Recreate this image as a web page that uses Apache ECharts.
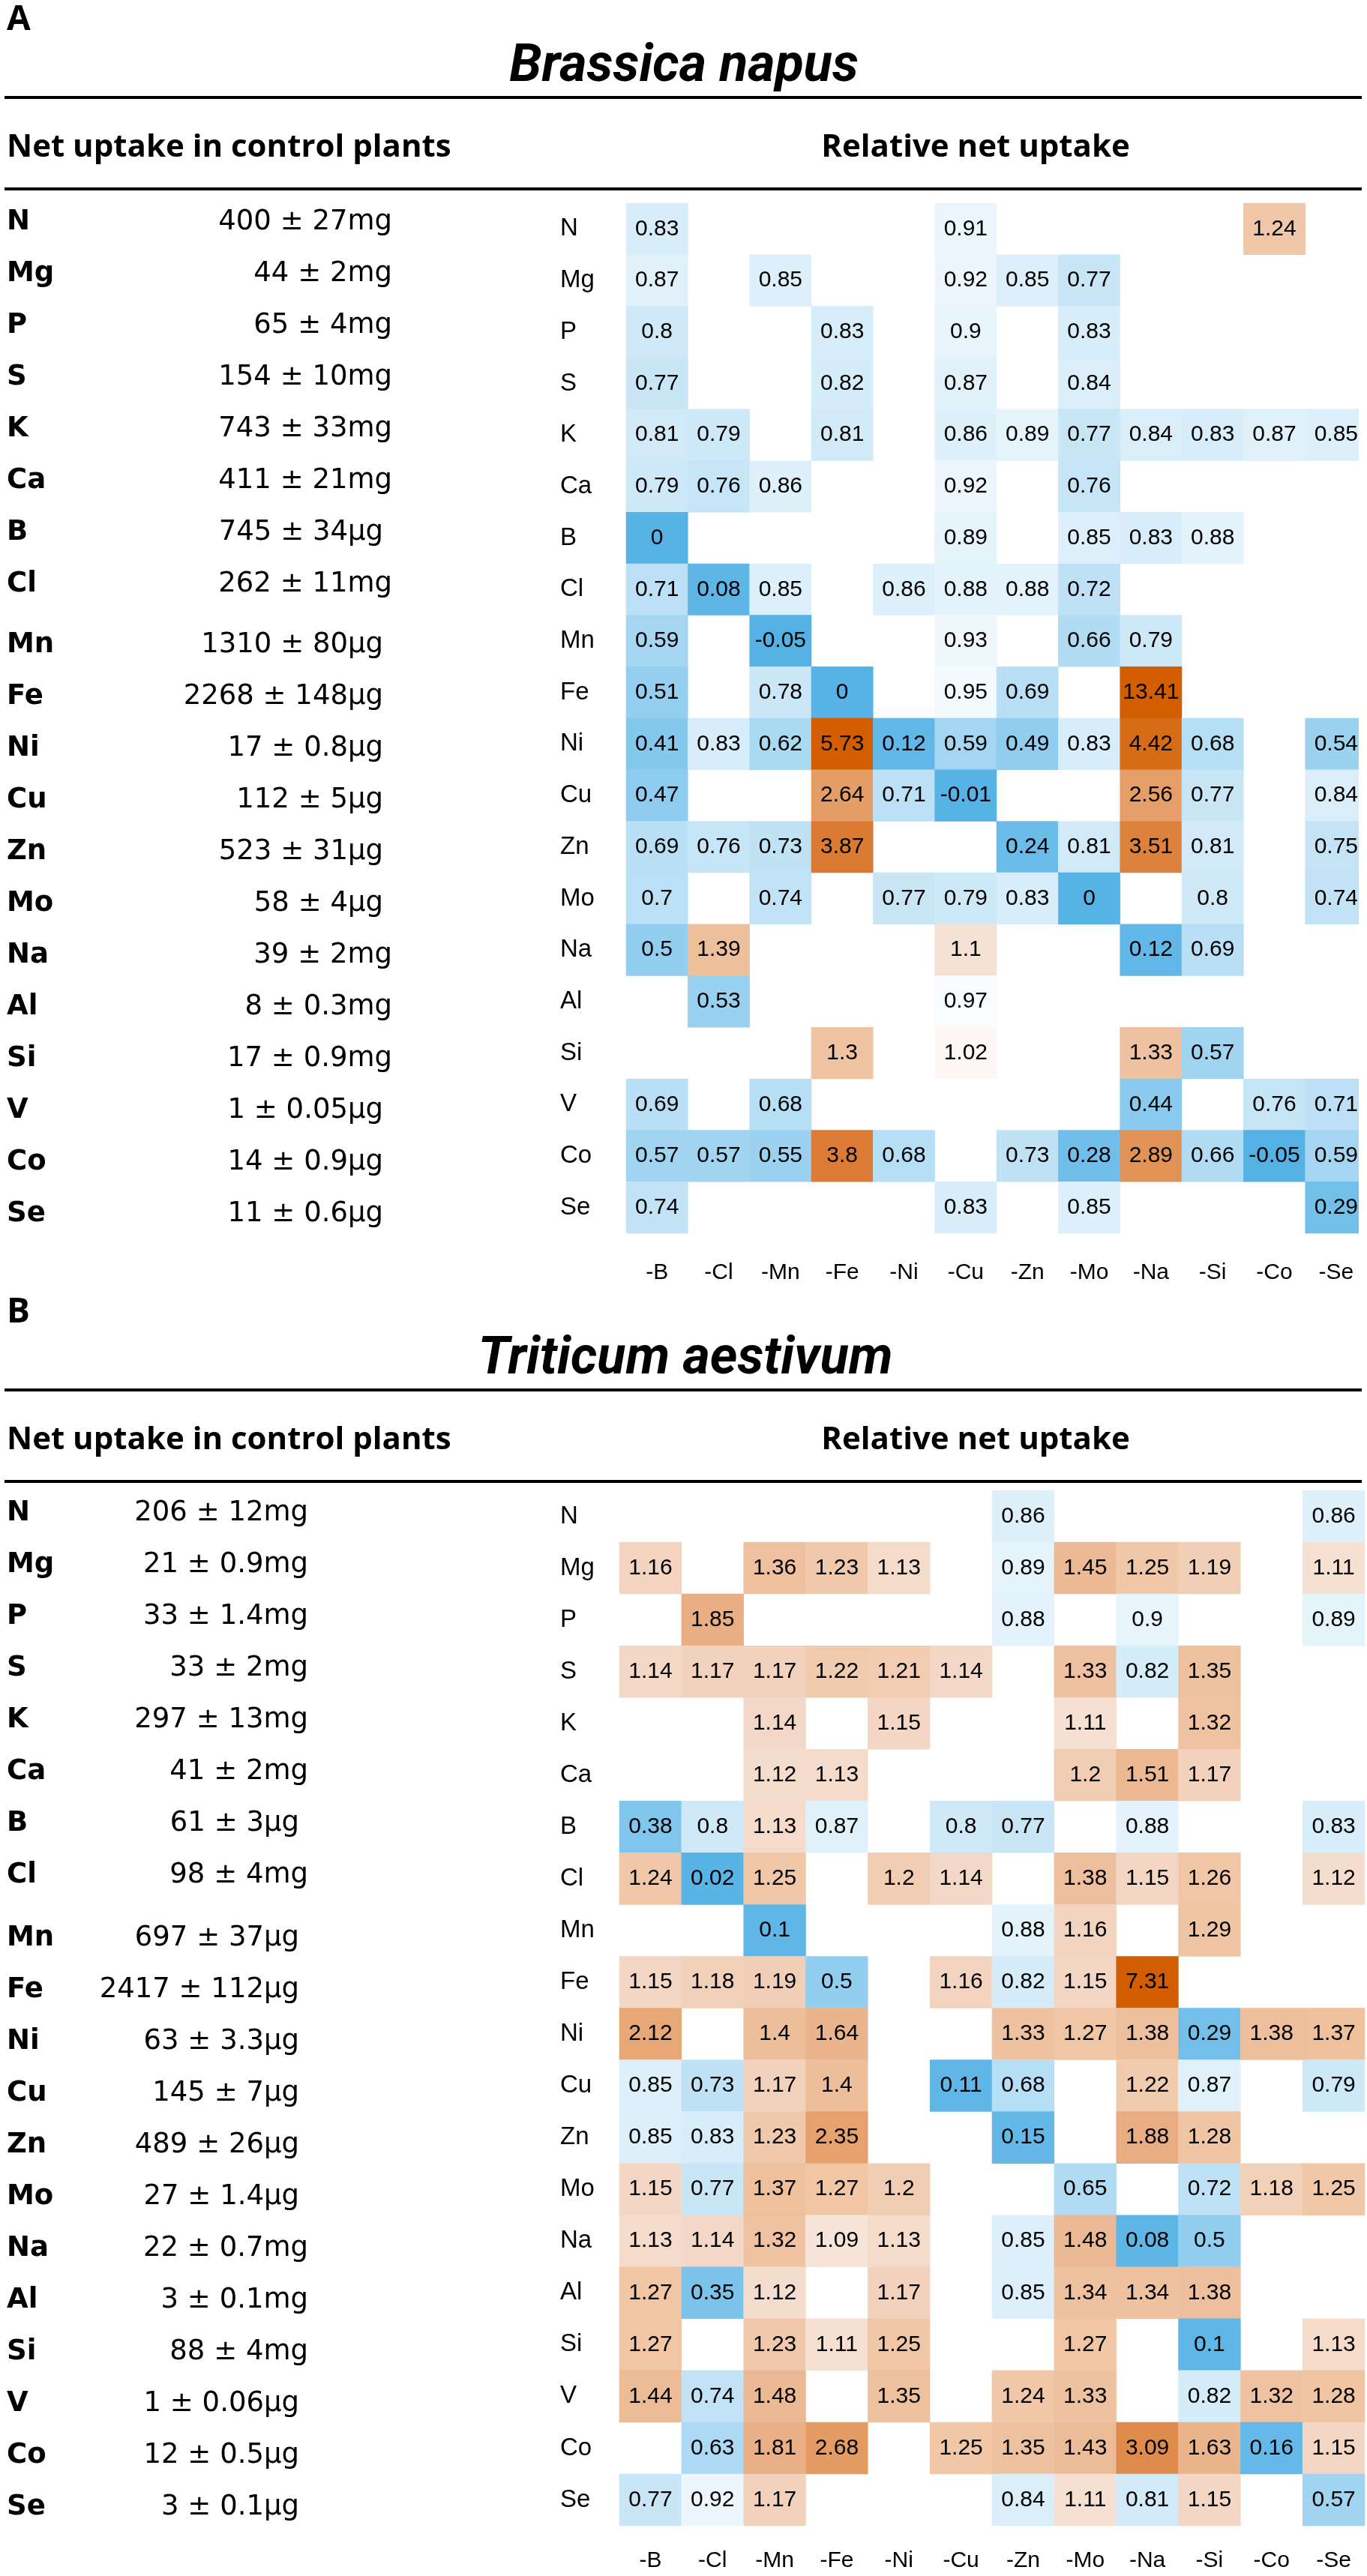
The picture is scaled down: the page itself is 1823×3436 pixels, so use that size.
<!DOCTYPE html>
<html>
<head>
<meta charset="utf-8">
<script src="https://cdn.jsdelivr.net/npm/echarts@6/dist/echarts.min.js"></script>
<style>
  html, body { margin: 0; padding: 0; background: #fff; }
  #chart { width: 1823px; height: 3436px; }
</style>
</head>
<body>
<div id="chart"></div>
<script>
// deficiency treatments (columns) and elements (rows)
const treatments = ['-B', '-Cl', '-Mn', '-Fe', '-Ni', '-Cu', '-Zn', '-Mo', '-Na', '-Si', '-Co', '-Se'];
const elements = ['N', 'Mg', 'P', 'S', 'K', 'Ca', 'B', 'Cl', 'Mn', 'Fe', 'Ni', 'Cu', 'Zn', 'Mo', 'Na', 'Al', 'Si', 'V', 'Co', 'Se'];

// net uptake in control plants
const napusControl = ['400 ± 27mg', '44 ± 2mg', '65 ± 4mg', '154 ± 10mg', '743 ± 33mg', '411 ± 21mg', '745 ± 34µg',
  '262 ± 11mg', '1310 ± 80µg', '2268 ± 148µg', '17 ± 0.8µg', '112 ± 5µg', '523 ± 31µg', '58 ± 4µg', '39 ± 2mg',
  '8 ± 0.3mg', '17 ± 0.9mg', '1 ± 0.05µg', '14 ± 0.9µg', '11 ± 0.6µg'];
const aestivumControl = ['206 ± 12mg', '21 ± 0.9mg', '33 ± 1.4mg', '33 ± 2mg', '297 ± 13mg', '41 ± 2mg', '61 ± 3µg',
  '98 ± 4mg', '697 ± 37µg', '2417 ± 112µg', '63 ± 3.3µg', '145 ± 7µg', '489 ± 26µg', '27 ± 1.4µg', '22 ± 0.7mg',
  '3 ± 0.1mg', '88 ± 4mg', '1 ± 0.06µg', '12 ± 0.5µg', '3 ± 0.1µg'];

// relative net uptake, one row per element, null = not significant
const napusRelative = [
  [0.83, null, null, null, null, 0.91, null, null, null, null, 1.24, null],
  [0.87, null, 0.85, null, null, 0.92, 0.85, 0.77, null, null, null, null],
  [0.8, null, null, 0.83, null, 0.9, null, 0.83, null, null, null, null],
  [0.77, null, null, 0.82, null, 0.87, null, 0.84, null, null, null, null],
  [0.81, 0.79, null, 0.81, null, 0.86, 0.89, 0.77, 0.84, 0.83, 0.87, 0.85],
  [0.79, 0.76, 0.86, null, null, 0.92, null, 0.76, null, null, null, null],
  [0, null, null, null, null, 0.89, null, 0.85, 0.83, 0.88, null, null],
  [0.71, 0.08, 0.85, null, 0.86, 0.88, 0.88, 0.72, null, null, null, null],
  [0.59, null, -0.05, null, null, 0.93, null, 0.66, 0.79, null, null, null],
  [0.51, null, 0.78, 0, null, 0.95, 0.69, null, 13.41, null, null, null],
  [0.41, 0.83, 0.62, 5.73, 0.12, 0.59, 0.49, 0.83, 4.42, 0.68, null, 0.54],
  [0.47, null, null, 2.64, 0.71, -0.01, null, null, 2.56, 0.77, null, 0.84],
  [0.69, 0.76, 0.73, 3.87, null, null, 0.24, 0.81, 3.51, 0.81, null, 0.75],
  [0.7, null, 0.74, null, 0.77, 0.79, 0.83, 0, null, 0.8, null, 0.74],
  [0.5, 1.39, null, null, null, 1.1, null, null, 0.12, 0.69, null, null],
  [null, 0.53, null, null, null, 0.97, null, null, null, null, null, null],
  [null, null, null, 1.3, null, 1.02, null, null, 1.33, 0.57, null, null],
  [0.69, null, 0.68, null, null, null, null, null, 0.44, null, 0.76, 0.71],
  [0.57, 0.57, 0.55, 3.8, 0.68, null, 0.73, 0.28, 2.89, 0.66, -0.05, 0.59],
  [0.74, null, null, null, null, 0.83, null, 0.85, null, null, null, 0.29]
];
const aestivumRelative = [
  [null, null, null, null, null, null, 0.86, null, null, null, null, 0.86],
  [1.16, null, 1.36, 1.23, 1.13, null, 0.89, 1.45, 1.25, 1.19, null, 1.11],
  [null, 1.85, null, null, null, null, 0.88, null, 0.9, null, null, 0.89],
  [1.14, 1.17, 1.17, 1.22, 1.21, 1.14, null, 1.33, 0.82, 1.35, null, null],
  [null, null, 1.14, null, 1.15, null, null, 1.11, null, 1.32, null, null],
  [null, null, 1.12, 1.13, null, null, null, 1.2, 1.51, 1.17, null, null],
  [0.38, 0.8, 1.13, 0.87, null, 0.8, 0.77, null, 0.88, null, null, 0.83],
  [1.24, 0.02, 1.25, null, 1.2, 1.14, null, 1.38, 1.15, 1.26, null, 1.12],
  [null, null, 0.1, null, null, null, 0.88, 1.16, null, 1.29, null, null],
  [1.15, 1.18, 1.19, 0.5, null, 1.16, 0.82, 1.15, 7.31, null, null, null],
  [2.12, null, 1.4, 1.64, null, null, 1.33, 1.27, 1.38, 0.29, 1.38, 1.37],
  [0.85, 0.73, 1.17, 1.4, null, 0.11, 0.68, null, 1.22, 0.87, null, 0.79],
  [0.85, 0.83, 1.23, 2.35, null, null, 0.15, null, 1.88, 1.28, null, null],
  [1.15, 0.77, 1.37, 1.27, 1.2, null, null, 0.65, null, 0.72, 1.18, 1.25],
  [1.13, 1.14, 1.32, 1.09, 1.13, null, 0.85, 1.48, 0.08, 0.5, null, null],
  [1.27, 0.35, 1.12, null, 1.17, null, 0.85, 1.34, 1.34, 1.38, null, null],
  [1.27, null, 1.23, 1.11, 1.25, null, null, 1.27, null, 0.1, null, 1.13],
  [1.44, 0.74, 1.48, null, 1.35, null, 1.24, 1.33, null, 0.82, 1.32, 1.28],
  [null, 0.63, 1.81, 2.68, null, 1.25, 1.35, 1.43, 3.09, 1.63, 0.16, 1.15],
  [0.77, 0.92, 1.17, null, null, null, 0.84, 1.11, 0.81, 1.15, null, 0.57]
];

// colour ramp anchors (value -> colour), blue below 1, orange above
const rampAnchors = [
  [-0.05, '#55b0e4'], [0, '#57b3e6'], [0.25, '#6cbce9'], [0.5, '#92ceef'], [0.75, '#c4e4f6'], [1, '#ffffff'],
  [1.05, '#faeee6'], [1.1, '#f6e2d5'], [1.15, '#f3d6c3'], [1.2, '#f1cdb3'], [1.25, '#f0c7a7'], [1.35, '#eec19e'],
  [1.5, '#ebb892'], [1.85, '#e9ae84'], [2.35, '#e6a16c'], [2.65, '#e49d65'], [3.1, '#df8b4a'], [3.85, '#db7a33'],
  [4.45, '#d76b16'], [5.7, '#d35e00'], [14, '#d35e00']
];
const RAMP_MIN = -0.05, RAMP_MAX = 14;

function hexToRgb(h) { return [1, 3, 5].map(i => parseInt(h.slice(i, i + 2), 16)); }
function sampleRamp(v) {
  for (let i = 1; i < rampAnchors.length; i++) {
    const [v1, c1] = rampAnchors[i];
    if (v <= v1) {
      const [v0, c0] = rampAnchors[i - 1];
      const t = (v - v0) / (v1 - v0);
      const a = hexToRgb(c0), b = hexToRgb(c1);
      return 'rgb(' + a.map((x, k) => Math.round(x + (b[k] - x) * t)).join(',') + ')';
    }
  }
  return rampAnchors[rampAnchors.length - 1][1];
}
const rampColors = [];
for (let v = RAMP_MIN; v <= RAMP_MAX + 1e-9; v += 0.01) rampColors.push(sampleRamp(v));

function toCells(matrix) {
  const out = [];
  matrix.forEach((row, r) => row.forEach((v, c) => { if (v !== null) out.push([c, r, v]); }));
  return out;
}

const panels = [
  { letter: 'A', title: 'Brassica napus', titleW: 465, titleX: 912, control: napusControl, rel: napusRelative,
    off: 0, grid: { left: 835, top: 271, width: 989, height: 1374 }, xMargin: 38, valRight: 523,
    tableTop: 296, tableStep: 69, tableJump: 12 },
  { letter: 'B', title: 'Triticum aestivum', titleW: 555, titleX: 914, control: aestivumControl, rel: aestivumRelative,
    off: 1724, grid: { left: 826, top: 1988, width: 994, height: 1381 }, xMargin: 32, valRight: 411,
    tableTop: 2018, tableStep: 69, tableJump: 15 }
];

const heatFont = '"Liberation Sans", Arial, sans-serif';
const titleFamily = 'Roboto, "Open Sans", sans-serif';
const measureCtx = document.createElement('canvas').getContext('2d');
function fitSize(text, prefix, family, width) {
  measureCtx.font = prefix + ' 100px ' + family;
  return Math.round(100 * width / measureCtx.measureText(text).width);
}

const graphic = [];
function txt(x, y, text, font, align) {
  graphic.push({ type: 'text', x: x, y: y, silent: true,
    style: { text: text, font: font, fill: '#000', align: align || 'left', verticalAlign: 'middle' } });
}

panels.forEach(p => {
  txt(9, 27 + p.off, p.letter, 'bold 46px "Open Sans", sans-serif');
  const ts = fitSize(p.title, 'italic bold', titleFamily, p.titleW);
  txt(p.titleX, 90 + p.off, p.title, 'italic bold ' + ts + 'px ' + titleFamily, 'center');
  txt(9, 197 + p.off, 'Net uptake in control plants', 'bold 42px "Open Sans", sans-serif');
  txt(1301, 197 + p.off, 'Relative net uptake', 'bold 42px "Open Sans", sans-serif', 'center');
  [130, 252].forEach(y => graphic.push({ type: 'line', silent: true,
    shape: { x1: 6, y1: y + p.off, x2: 1816, y2: y + p.off }, style: { stroke: '#000', lineWidth: 4 } }));
  elements.forEach((el, i) => {
    const y = p.tableTop + i * p.tableStep + (i >= 8 ? p.tableJump : 0);
    txt(9, y, el, 'bold 37px "DejaVu Sans", sans-serif');
    const s = p.control[i];
    txt(p.valRight - (s.endsWith('µg') ? 12 : 0), y, s, '37px "DejaVu Sans", sans-serif', 'right');
  });
});
// the first panel's last column is cut at the figure edge
graphic.push({ type: 'rect', silent: true, z: 100,
  shape: { x: 1812, y: 265, width: 20, height: 1390 }, style: { fill: '#fff' } });

const option = {
  backgroundColor: '#fff',
  animation: false,
  grid: panels.map(p => p.grid),
  xAxis: panels.map((p, i) => ({
    type: 'category', gridIndex: i, data: treatments, position: 'bottom',
    axisLine: { show: false }, axisTick: { show: false }, splitLine: { show: false },
    axisLabel: { color: '#000', fontFamily: heatFont, fontSize: 30, margin: p.xMargin, interval: 0 }
  })),
  yAxis: panels.map((p, i) => ({
    type: 'category', gridIndex: i, data: elements, inverse: true,
    axisLine: { show: false }, axisTick: { show: false }, splitLine: { show: false },
    axisLabel: { color: '#000', fontFamily: heatFont, fontSize: 33, align: 'left',
      margin: p.grid.left - 747, interval: 0 }
  })),
  visualMap: {
    type: 'continuous', show: false, min: RAMP_MIN, max: RAMP_MAX, dimension: 2,
    seriesIndex: [0, 1], inRange: { color: rampColors }
  },
  series: panels.map((p, i) => ({
    type: 'heatmap', xAxisIndex: i, yAxisIndex: i, data: toCells(p.rel),
    emphasis: { disabled: true },
    label: { show: true, color: '#000', fontFamily: heatFont, fontSize: 30,
      formatter: d => String(d.value[2]) }
  })),
  graphic: graphic
};

const chart = echarts.init(document.getElementById('chart'), null, { renderer: 'canvas' });
chart.setOption(option);
</script>
</body>
</html>
